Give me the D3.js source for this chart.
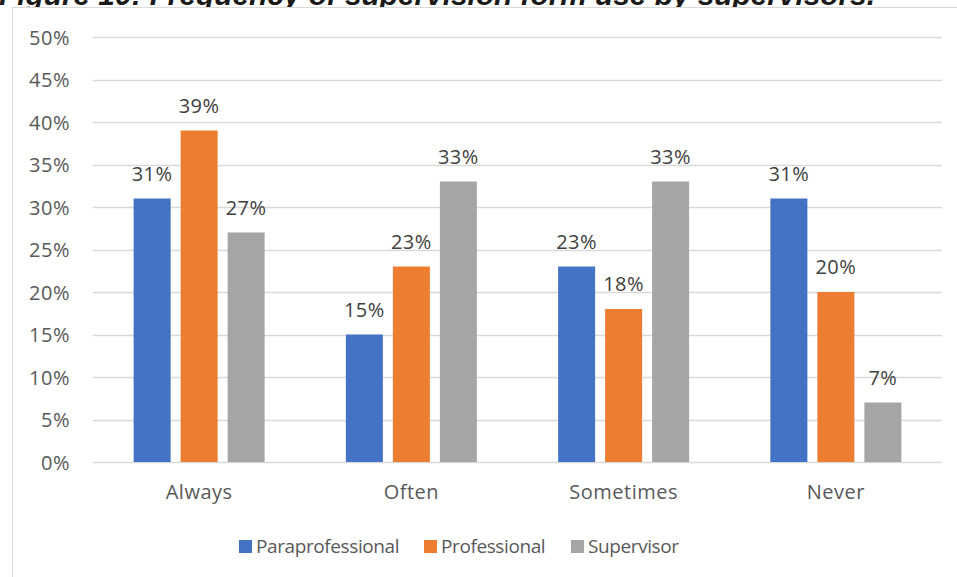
<!DOCTYPE html>
<html>
<head>
<meta charset="utf-8">
<script src="https://cdn.jsdelivr.net/npm/d3@7"></script>
<style>
  html, body { margin: 0; padding: 0; background: #fff; overflow: hidden; }
  svg { display: block; }
</style>
</head>
<body>
<svg id="chart" width="957" height="577"></svg>
<script>
// Frequency categories and the share of each respondent group
const categories = ["Always", "Often", "Sometimes", "Never"];
const seriesNames = ["Paraprofessional", "Professional", "Supervisor"];
const paraprofessional = [31, 15, 23, 31];
const professional = [39, 23, 18, 20];
const supervisor = [27, 33, 33, 7];
const yTicks = [0, 5, 10, 15, 20, 25, 30, 35, 40, 45, 50];
const colors = ["#4472C4", "#ED7D31", "#A5A5A5"];
const titleText = "Figure 10: Frequency of supervision form use by supervisors.";

const series = [paraprofessional, professional, supervisor];
const font = "'Open Sans', 'Noto Sans', sans-serif";
const fs = 20;
const ls = 0.5;

const svg = d3.select("#chart");

// Title (runs off the top edge of the page)
svg.append("text")
  .attr("x", -1).attr("y", 5)
  .attr("font-family", "'Liberation Sans', Arial, sans-serif")
  .attr("font-weight", "bold").attr("font-style", "italic")
  .attr("font-size", 29.8).attr("fill", "#1a1a1a")
  .text(titleText);

// Chart frame
svg.append("rect")
  .attr("x", 12.5).attr("y", 7.5).attr("width", 960).attr("height", 600)
  .attr("fill", "#fff").attr("stroke", "#d9d9d9").attr("stroke-width", 1);

const plot = { left: 93, right: 942, top: 37, bottom: 462 };

const x = d3.scaleBand().domain(categories).range([plot.left, plot.right]);
const y = d3.scaleLinear().domain([0, 50]).range([plot.bottom, plot.top]);

const barW = 37, step = 47;

// Gridlines
svg.append("g").selectAll("line").data(yTicks).join("line")
  .attr("x1", plot.left).attr("x2", plot.right)
  .attr("y1", d => Math.round(y(d)) + 0.5).attr("y2", d => Math.round(y(d)) + 0.5)
  .attr("stroke", "#d9d9d9").attr("stroke-width", 1.5);

// Y axis labels
const yAxis = d3.axisLeft(y).tickValues(yTicks).tickFormat(d => d + "%").tickSize(0).tickPadding(0);
const yg = svg.append("g").attr("transform", `translate(${70},0)`).call(yAxis);
yg.select(".domain").remove();
yg.selectAll("text").attr("font-family", font).attr("font-size", fs)
  .attr("letter-spacing", ls).attr("fill", "#595959").attr("dy", "0.36em");

// Bars and value labels
series.forEach((vals, si) => {
  const g = svg.append("g");
  g.selectAll("rect").data(categories).join("rect")
    .attr("x", c => x(c) + x.bandwidth() / 2 + (si - 1) * step - barW / 2)
    .attr("width", barW)
    .attr("y", (c, i) => y(vals[i]))
    .attr("height", (c, i) => y(0) - y(vals[i]))
    .attr("fill", colors[si]);
  g.selectAll("text").data(categories).join("text")
    .attr("x", c => x(c) + x.bandwidth() / 2 + (si - 1) * step)
    .attr("y", (c, i) => y(vals[i]) - 18)
    .attr("text-anchor", "middle")
    .attr("font-family", font).attr("font-size", fs).attr("letter-spacing", ls)
    .attr("fill", "#404040")
    .text((c, i) => vals[i] + "%");
});

// X axis labels
const xAxis = d3.axisBottom(x).tickSize(0).tickPadding(0);
const xg = svg.append("g").attr("transform", `translate(0,${plot.bottom})`).call(xAxis);
xg.select(".domain").remove();
xg.selectAll("text").attr("font-family", font).attr("font-size", fs)
  .attr("letter-spacing", ls).attr("fill", "#595959")
  .attr("dy", null).attr("y", 37);

// Legend
const legendX = [239, 424, 571];
const lg = svg.append("g");
seriesNames.forEach((name, i) => {
  lg.append("rect").attr("x", legendX[i]).attr("y", 540).attr("width", 13).attr("height", 13).attr("fill", colors[i]);
  lg.append("text").attr("x", legendX[i] + 17).attr("y", 553)
    .attr("font-family", font).attr("font-size", 19).attr("letter-spacing", -0.4)
    .attr("fill", "#595959")
    .text(name);
});
</script>
</body>
</html>
